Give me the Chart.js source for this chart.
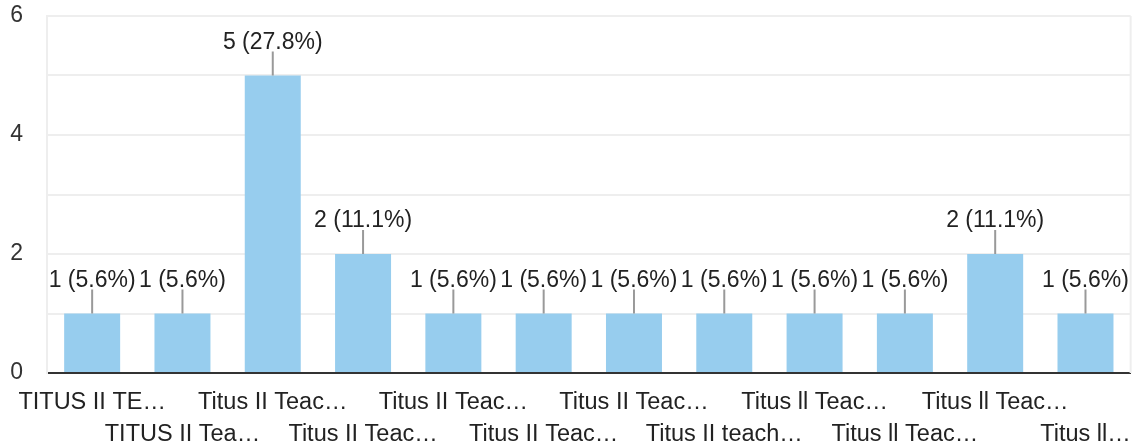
<!DOCTYPE html>
<html lang="en">
<head>
    <meta charset="UTF-8">
    <title>Response chart</title>
    <script src="https://cdn.jsdelivr.net/npm/chart.js"></script>
    <style>
        html, body {
            margin: 0;
            padding: 0;
            background: #fff;
        }

        .chart-box {
            width: 1137px;
            height: 448px;
        }
    </style>
</head>
<body>
    <div class="chart-box">
        <canvas id="responseChart"></canvas>
    </div>

    <script>
        const categories = [
            'TITUS II TE…', 'TITUS II Tea…', 'Titus II Teac…', 'Titus II Teac…',
            'Titus II Teac…', 'Titus II Teac…', 'Titus II Teac…', 'Titus II teach…',
            'Titus ll Teac…', 'Titus ll Teac…', 'Titus ll Teac…', 'Titus ll…'
        ];
        const counts = [1, 1, 5, 2, 1, 1, 1, 1, 1, 1, 2, 1];
        const yTickLabels = [0, 2, 4, 6];

        const total = counts.reduce((a, b) => a + b, 0);
        const fontFamily = 'Arial, "Liberation Sans", sans-serif';

        // labels staggered in two rows, like the original
        const staggered = categories.map((c, i) => i % 2 === 0 ? [c, ''] : ['', c]);

        const barLabels = {
            id: 'barLabels',
            afterDatasetsDraw(chart) {
                const ctx = chart.ctx;
                const meta = chart.getDatasetMeta(0);
                ctx.save();
                ctx.font = '23px ' + fontFamily;
                ctx.textAlign = 'center';
                ctx.textBaseline = 'alphabetic';
                meta.data.forEach((bar, i) => {
                    const top = bar.y;
                    ctx.strokeStyle = '#999';
                    ctx.lineWidth = 2;
                    ctx.beginPath();
                    ctx.moveTo(bar.x, top);
                    ctx.lineTo(bar.x, top - 24);
                    ctx.stroke();
                    const pct = (counts[i] / total * 100).toFixed(1);
                    ctx.fillStyle = '#222';
                    ctx.fillText(counts[i] + ' (' + pct + '%)', bar.x, top - 27);
                });
                ctx.restore();
            }
        };

        const rightBorder = {
            id: 'rightBorder',
            beforeDatasetsDraw(chart) {
                const a = chart.chartArea;
                const ctx = chart.ctx;
                ctx.save();
                ctx.strokeStyle = '#eeeeee';
                ctx.lineWidth = 2;
                ctx.beginPath();
                ctx.moveTo(a.right, a.top);
                ctx.lineTo(a.right, a.bottom);
                ctx.stroke();
                ctx.restore();
            }
        };

        const ctx = document.getElementById('responseChart').getContext('2d');
        new Chart(ctx, {
            type: 'bar',
            data: {
                labels: staggered,
                datasets: [{
                    data: counts,
                    backgroundColor: '#97cdee',
                    categoryPercentage: 1,
                    barPercentage: 0.62
                }]
            },
            options: {
                responsive: true,
                maintainAspectRatio: false,
                animation: false,
                layout: {
                    autoPadding: false,
                    padding: { top: 16, right: 6, left: 0, bottom: 0 }
                },
                plugins: {
                    legend: { display: false },
                    tooltip: { enabled: false }
                },
                scales: {
                    x: {
                        grid: { display: false },
                        border: { color: '#333', width: 2 },
                        ticks: {
                            autoSkip: false,
                            maxRotation: 0,
                            padding: 6,
                            color: '#222',
                            font: { family: fontFamily, size: 23.5, lineHeight: 1.36 }
                        },
                        afterFit(axis) {
                            axis.height = 75;
                        }
                    },
                    y: {
                        min: 0,
                        max: 6,
                        grid: {
                            drawTicks: false,
                            color: '#eeeeee',
                            lineWidth: 2
                        },
                        border: { color: '#eeeeee', width: 2 },
                        ticks: {
                            stepSize: 1,
                            padding: 24,
                            color: '#333',
                            font: { family: fontFamily, size: 23 },
                            callback: v => yTickLabels.includes(v) ? v : ''
                        },
                        afterFit(axis) {
                            axis.width = 47;
                            // tick padding otherwise pushes the plot top down
                            axis.paddingTop = 0;
                            axis.paddingBottom = 0;
                        }
                    }
                }
            },
            plugins: [barLabels, rightBorder]
        });
    </script>
</body>
</html>
